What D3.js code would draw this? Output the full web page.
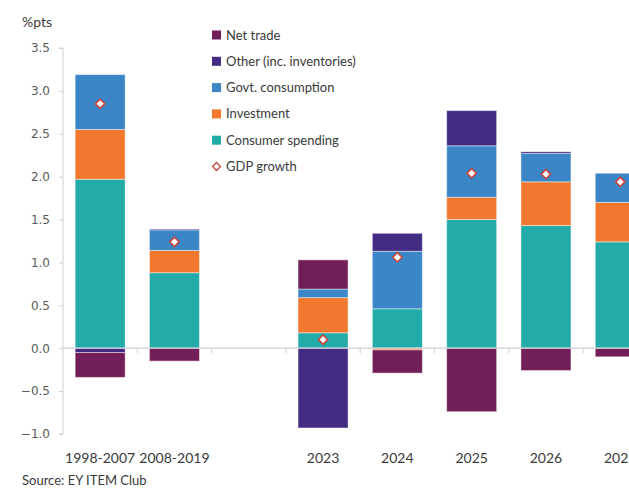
<!DOCTYPE html>
<html>
<head>
<meta charset="utf-8">
<script src="https://cdn.jsdelivr.net/npm/d3@7/dist/d3.min.js"></script>
<style>
  html, body { margin: 0; padding: 0; background: #fff; }
  svg { display: block; }
  .lbl { font-family: Lato, "Open Sans", sans-serif; fill: #3a3a3a; }
  .tick-y { font-family: "DejaVu Sans", sans-serif; font-size: 12px; fill: #5a5a5a; }
</style>
</head>
<body>
<svg id="chart" width="629" height="489"></svg>
<script>
// Periods on the x axis; the empty slot separates history averages from yearly figures
const categories = ["1998-2007", "2008-2019", "", "2023", "2024", "2025", "2026", "2027"];

// Contributions to GDP growth, percentage points
const consumerSpending = [1.97, 0.88, null, 0.18, 0.46, 1.50, 1.43, 1.24];
const investment       = [0.58, 0.26, null, 0.41, -0.02, 0.26, 0.51, 0.46];
const govtConsumption  = [0.64, 0.24, null, 0.10, 0.67, 0.60, 0.33, 0.34];
const otherInventories = [-0.05, 0.01, null, -0.93, 0.21, 0.41, 0.02, 0.00];
const netTrade         = [-0.29, -0.15, null, 0.34, -0.27, -0.74, -0.26, -0.10];
const gdpGrowth        = [2.85, 1.24, null, 0.10, 1.06, 2.04, 2.03, 1.94];

const yTicks = [3.5, 3.0, 2.5, 2.0, 1.5, 1.0, 0.5, 0.0, -0.5, -1.0];

const seriesKeys = ["consumer", "investment", "govt", "other", "trade"];
const seriesInfo = {
  consumer:   { name: "Consumer spending",        color: "#22aba9", values: consumerSpending },
  investment: { name: "Investment",               color: "#f2782e", values: investment },
  govt:       { name: "Govt. consumption",        color: "#3b86c6", values: govtConsumption },
  other:      { name: "Other (inc. inventories)", color: "#422c83", values: otherInventories },
  trade:      { name: "Net trade",                color: "#721e58", values: netTrade }
};
const legendOrder = ["trade", "other", "govt", "investment", "consumer"];

const rows = categories.map((c, i) => {
  const r = { cat: c, gdp: gdpGrowth[i] };
  seriesKeys.forEach(k => { r[k] = seriesInfo[k].values[i] || 0; });
  return r;
});

const svg = d3.select("#chart");
const axisX = 63;
const x = d3.scaleBand()
  .domain(categories)
  .range([axisX, axisX + 8 * 74.3])
  .paddingInner(0.327)
  .paddingOuter(0.1635);

const y = d3.scaleLinear().domain([-1.0, 3.5]).range([434, 48]);

const stacked = d3.stack()
  .keys(seriesKeys)
  .offset(d3.stackOffsetDiverging)(rows);

// Y axis
const yAxis = svg.append("g")
  .attr("transform", `translate(${axisX},0)`)
  .call(d3.axisLeft(y).tickValues(yTicks).tickFormat(d3.format(".1f")).tickSize(4).tickPadding(9));
yAxis.select(".domain").attr("stroke", "#cfcfd8").attr("d", `M-4,${y(3.5)}H0V${y(-1.0)}H-4`);
yAxis.selectAll(".tick line").attr("stroke", "#cfcfd8");
yAxis.selectAll(".tick text").attr("class", "tick-y").attr("fill", null);
yAxis.attr("font-family", null).attr("font-size", null);

// Bars
const layer = svg.append("g");
stacked.forEach(s => {
  layer.append("g")
    .attr("fill", seriesInfo[s.key].color)
    .selectAll("rect")
    .data(s.filter(d => d.data.cat !== "" && d[1] !== d[0]))
    .join("rect")
    .attr("x", d => x(d.data.cat))
    .attr("width", x.bandwidth())
    .attr("y", d => y(Math.max(d[0], d[1])))
    .attr("height", d => Math.abs(y(d[0]) - y(d[1])))
    .attr("stroke", "#ffffff")
    .attr("stroke-opacity", 0.45)
    .attr("stroke-width", 1);
});

// Zero line with band-boundary ticks
const zero = y(0);
svg.append("line")
  .attr("x1", axisX).attr("x2", 629)
  .attr("y1", zero).attr("y2", zero)
  .attr("stroke", "#cfcfd8").attr("stroke-width", 1.2);
const step = x.step();
d3.range(1, 8).forEach(i => {
  const bx = axisX + step * i;
  svg.append("line")
    .attr("x1", bx).attr("x2", bx)
    .attr("y1", zero).attr("y2", zero + 5)
    .attr("stroke", "#cfcfd8");
});

// Category labels
svg.append("g").selectAll("text")
  .data(categories.filter(c => c !== ""))
  .join("text")
  .attr("class", "lbl")
  .attr("x", d => x(d) + x.bandwidth() / 2)
  .attr("y", 463)
  .attr("text-anchor", "middle")
  .attr("font-size", 14)
  .text(d => d);

// GDP growth markers
const diamond = d3.symbol().type(d3.symbolDiamond2).size(55);
svg.append("g").selectAll("path")
  .data(rows.filter(r => r.gdp !== null))
  .join("path")
  .attr("d", diamond)
  .attr("transform", d => `translate(${x(d.cat) + x.bandwidth() / 2},${y(d.gdp)})`)
  .attr("fill", "#ffffff")
  .attr("stroke", "#c4463d")
  .attr("stroke-width", 1.6);

// Legend
const legend = svg.append("g");
const legendItems = legendOrder.map(k => ({ name: seriesInfo[k].name, color: seriesInfo[k].color, type: "box" }))
  .concat([{ name: "GDP growth", color: "#c4463d", type: "diamond" }]);
legendItems.forEach((item, i) => {
  const cy = 35 + i * 26.3;
  if (item.type === "box") {
    legend.append("rect")
      .attr("x", 212).attr("y", cy - 4.5)
      .attr("width", 9).attr("height", 9)
      .attr("fill", item.color);
  } else {
    legend.append("path")
      .attr("d", d3.symbol().type(d3.symbolDiamond2).size(40))
      .attr("transform", `translate(216.5,${cy})`)
      .attr("fill", "#fff")
      .attr("stroke", item.color)
      .attr("stroke-width", 1.3);
  }
  legend.append("text")
    .attr("class", "lbl")
    .attr("x", 226).attr("y", cy)
    .attr("dy", "0.35em")
    .attr("font-size", 13)
    .text(item.name);
});

// Unit label and source
svg.append("text").attr("class", "lbl").attr("x", 22).attr("y", 27).attr("font-size", 14).text("%pts");
svg.append("text").attr("class", "lbl").attr("x", 22).attr("y", 485).attr("font-size", 13).text("Source: EY ITEM Club");
</script>
</body>
</html>
